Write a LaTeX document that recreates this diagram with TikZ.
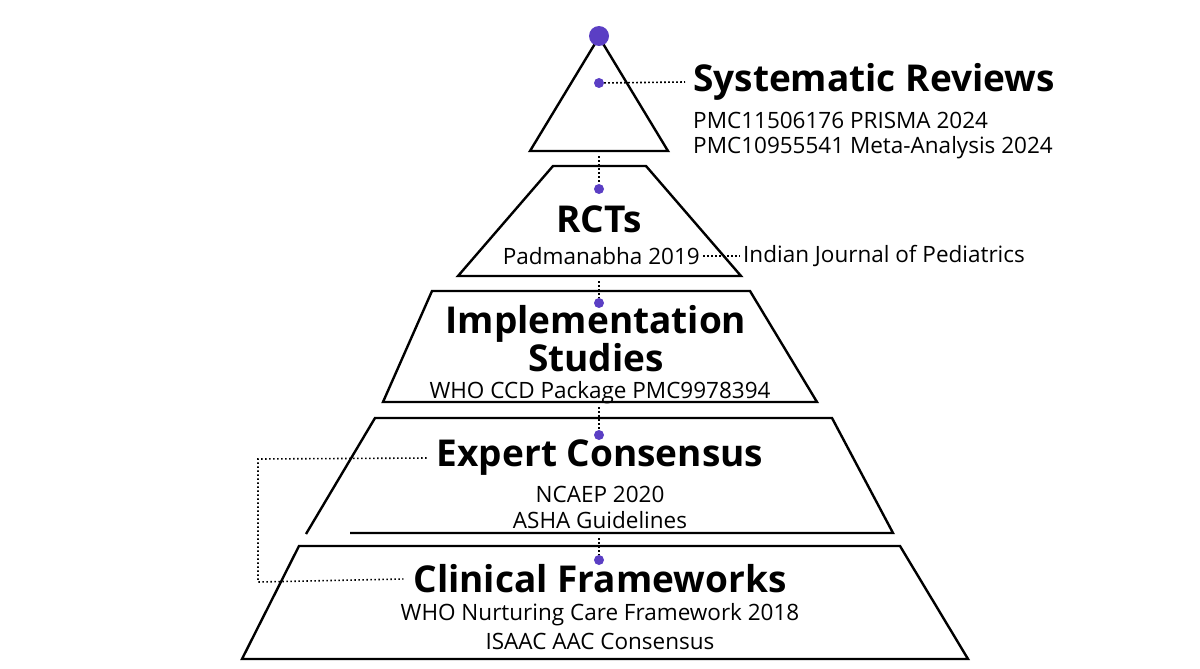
\documentclass[tikz,border=0pt]{standalone}
\usepackage{fontspec}
\setmainfont{Open Sans}
\definecolor{dotc}{HTML}{5B3FC4}
\begin{document}
\begin{tikzpicture}[x=1pt,y=-1pt,
  lay/.style={line width=2.4pt,line join=miter},
  dot/.style={circle,fill=dotc,inner sep=0pt,minimum size=10pt},
  con/.style={line width=1.6pt,dash pattern=on 1.6pt off 2.4pt},
  ttl/.style={font=\bfseries\fontsize{37}{35}\selectfont,inner sep=0pt},
  sub/.style={font=\fontsize{22.5}{24}\selectfont,inner sep=0pt}]
\useasboundingbox (0,0) rectangle (1200,669);
\draw[lay] (599,37) -- (668,151) -- (530,151) -- cycle;
\draw[lay] (553,166) -- (646,166) -- (741,276) -- (458,276) -- cycle;
\draw[lay] (432,291) -- (750,291) -- (817,402) -- (383,402) -- cycle;
\draw[lay] (306,534) -- (375,418) -- (832,418) -- (893,533) -- (350,533);
\draw[lay] (299,546) -- (900,546) -- (968,659) -- (242,659) -- cycle;
\node[dot,minimum size=20pt] (apex) at (599,36) {};
\node[dot] (d1) at (599,83) {};
\node[dot] (d2) at (599,189) {};
\node[dot] (d3) at (599,303) {};
\node[dot] (d4) at (599,435) {};
\node[dot] (d5) at (599,560) {};
\node[ttl,anchor=west] (sr) at (693,82) {Systematic Reviews};
\node[sub,anchor=west] (sr1) at (693,120) {PMC11506176 PRISMA 2024};
\node[sub,anchor=west] (sr2) at (693,148) {PMC10955541 Meta-Analysis 2024};
\node[ttl] (rct) at (599,219) {RCTs};
\node[sub,anchor=east] (pad) at (700,256) {Padmanabha 2019};
\node[sub,anchor=west] (ijp) at (743,256) {Indian Journal of Pediatrics};
\node[ttl,align=center] (imp) at (596,339) {Implementation\\Studies};
\node[sub] (who) at (600,393) {WHO CCD Package PMC9978394};
\node[ttl] (exp) at (600,458) {Expert Consensus};
\node[sub] (nc) at (600,494) {NCAEP 2020};
\node[sub] (asha) at (600,520) {ASHA Guidelines};
\node[ttl] (cf) at (600,579) {Clinical Frameworks};
\node[sub] (whon) at (600,615) {WHO Nurturing Care Framework 2018};
\node[sub] (isaac) at (600,641) {ISAAC AAC Consensus};
\coordinate (c1) at (599,156);
\coordinate (c2) at (599,281);
\coordinate (c3) at (599,407);
\coordinate (c4) at (599,538);
\draw[con] (d1) -- ([xshift=-8pt]sr.west);
\draw[con] (c1) -- (d2);
\draw[con] (c2) -- (d3);
\draw[con] (c3) -- (d4);
\draw[con] (c4) -- (d5);
\draw[con] ([xshift=3pt]pad.east) -- ([xshift=-3pt]ijp.west);
\draw[con] ([xshift=-10pt]exp.west) -- (258,459) -- (258,582) -- ([xshift=-10pt]cf.west);
\end{tikzpicture}
\end{document}
